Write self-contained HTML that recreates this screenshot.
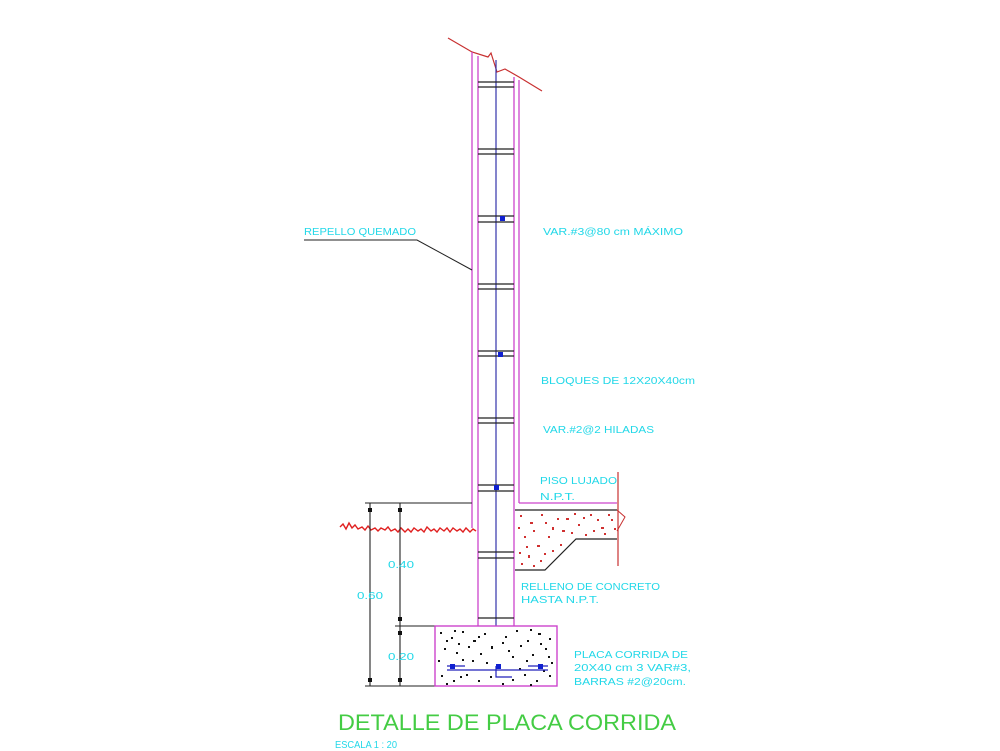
<!DOCTYPE html>
<html><head><meta charset="utf-8"><style>
html,body{margin:0;padding:0;background:#fff;width:1000px;height:751px;overflow:hidden}
svg{display:block}
text{font-family:"Liberation Sans",sans-serif}
.c{fill:#22d8e8;font-size:10.5px}
</style></head><body>
<svg width="1000" height="751" viewBox="0 0 1000 751" xmlns="http://www.w3.org/2000/svg">
<polyline points="448,38 472,52 488,57 491,53 497,72 505,69 519,77 542,91" fill="none" stroke="#c83030" stroke-width="1.2"/>
<g stroke="#cc44cc" stroke-width="1.3" fill="none">
<line x1="472" y1="52" x2="472" y2="503"/>
<line x1="478" y1="56" x2="478" y2="626"/>
<line x1="514" y1="77" x2="514" y2="626"/>
<line x1="519" y1="80" x2="519" y2="503"/>
<line x1="472" y1="503" x2="472" y2="528"/>
</g>
<line x1="496" y1="60" x2="496" y2="677" stroke="#3333aa" stroke-width="1.2"/>
<g stroke="#222" stroke-width="1.2">
<line x1="478" y1="82" x2="514" y2="82"/><line x1="478" y1="87" x2="514" y2="87"/>
<line x1="478" y1="149" x2="514" y2="149"/><line x1="478" y1="154" x2="514" y2="154"/>
<line x1="478" y1="216" x2="514" y2="216"/><line x1="478" y1="222" x2="514" y2="222"/>
<line x1="478" y1="284" x2="514" y2="284"/><line x1="478" y1="289" x2="514" y2="289"/>
<line x1="478" y1="351" x2="514" y2="351"/><line x1="478" y1="356" x2="514" y2="356"/>
<line x1="478" y1="418" x2="514" y2="418"/><line x1="478" y1="423" x2="514" y2="423"/>
<line x1="478" y1="485" x2="514" y2="485"/><line x1="478" y1="491" x2="514" y2="491"/>
<line x1="478" y1="552" x2="514" y2="552"/><line x1="478" y1="558" x2="514" y2="558"/>
<line x1="478" y1="618" x2="514" y2="618"/>
</g>
<g fill="#1020d0"><rect x="500" y="216" width="5" height="5"/><rect x="498" y="352" width="5" height="5"/><rect x="494" y="485" width="5" height="5"/></g>
<polyline points="304,240 417,240 472,270" fill="none" stroke="#222" stroke-width="1"/>
<line x1="519" y1="503" x2="617" y2="503" stroke="#cc44cc" stroke-width="1.3"/>
<line x1="515" y1="510" x2="617" y2="510" stroke="#222" stroke-width="1.2"/>
<line x1="618" y1="472" x2="618" y2="566" stroke="#c83030" stroke-width="1.2"/>
<polyline points="617,510 625,517 617,531" fill="none" stroke="#c83030" stroke-width="1"/>
<polyline points="617,539 576,539 545,570 515,570" fill="none" stroke="#222" stroke-width="1.2"/>
<g fill="#d03030">
<rect x="520" y="515" width="2" height="2"/><rect x="530" y="522" width="3" height="2"/><rect x="541" y="514" width="2" height="2"/><rect x="552" y="527" width="2" height="3"/><rect x="566" y="518" width="3" height="2"/><rect x="578" y="524" width="2" height="2"/><rect x="590" y="514" width="2" height="2"/><rect x="601" y="527" width="3" height="2"/><rect x="611" y="519" width="2" height="2"/><rect x="524" y="536" width="2" height="2"/><rect x="537" y="545" width="3" height="2"/><rect x="548" y="536" width="2" height="2"/><rect x="560" y="544" width="2" height="2"/><rect x="528" y="555" width="2" height="3"/><rect x="540" y="560" width="2" height="2"/><rect x="521" y="563" width="2" height="2"/><rect x="571" y="532" width="2" height="2"/><rect x="585" y="534" width="2" height="2"/><rect x="597" y="519" width="2" height="2"/><rect x="557" y="518" width="2" height="2"/><rect x="533" y="530" width="2" height="2"/><rect x="604" y="533" width="2" height="2"/><rect x="552" y="550" width="2" height="2"/>
<rect x="518" y="527" width="2" height="2"/><rect x="545" y="522" width="2" height="2"/><rect x="562" y="530" width="3" height="2"/><rect x="583" y="517" width="2" height="2"/><rect x="593" y="530" width="2" height="2"/><rect x="608" y="514" width="2" height="2"/><rect x="526" y="546" width="2" height="2"/><rect x="519" y="552" width="2" height="2"/><rect x="533" y="565" width="2" height="2"/><rect x="544" y="553" width="2" height="2"/><rect x="574" y="513" width="2" height="2"/><rect x="614" y="528" width="2" height="2"/>
</g>
<path d="M340,527 l3,-3 l3,5 l3,-6 l3,5 l3,-3 l3,4 l4,-2 l3,3 l3,-4 l3,4 l4,-2 l3,3 l3,-3 l4,2 l3,-3 l3,4 l4,-2 l3,3 l3,-4 l4,4 l3,-3 l3,3 l3,-4 l4,3 l3,-2 l3,3 l3,-5 l4,4 l3,-2 l3,3 l3,-4 l4,3 l3,-3 l3,4 l3,-4 l4,3 l3,-2 l3,3 l3,-4 l4,4 l3,-3 l3,2" fill="none" stroke="#e02020" stroke-width="1.4"/>
<g stroke="#222" stroke-width="1.1">
<line x1="365" y1="503" x2="472" y2="503"/>
<line x1="370" y1="503" x2="370" y2="686"/>
<line x1="400" y1="503" x2="400" y2="686"/>
<line x1="395" y1="626" x2="435" y2="626"/>
<line x1="365" y1="686" x2="435" y2="686"/>
</g>
<g fill="#111"><rect x="368" y="508" width="4" height="4"/><rect x="398" y="508" width="4" height="4"/><rect x="398" y="617" width="4" height="4"/><rect x="398" y="631" width="4" height="4"/><rect x="368" y="678" width="4" height="4"/><rect x="398" y="678" width="4" height="4"/></g>
<rect x="435" y="626" width="122" height="60" fill="#fff" stroke="#cc44cc" stroke-width="1.4"/>
<g fill="#111">
<rect x="440" y="632" width="2" height="2"/><rect x="451" y="637" width="2" height="2"/><rect x="462" y="631" width="2" height="2"/><rect x="473" y="640" width="3" height="2"/><rect x="484" y="633" width="2" height="2"/><rect x="505" y="636" width="2" height="2"/><rect x="516" y="630" width="2" height="2"/><rect x="527" y="640" width="2" height="2"/><rect x="538" y="633" width="3" height="2"/><rect x="549" y="638" width="2" height="2"/><rect x="444" y="648" width="2" height="2"/><rect x="456" y="652" width="2" height="2"/><rect x="468" y="646" width="2" height="2"/><rect x="480" y="653" width="2" height="2"/><rect x="491" y="646" width="2" height="3"/><rect x="508" y="650" width="2" height="2"/><rect x="520" y="645" width="2" height="2"/><rect x="532" y="654" width="2" height="2"/><rect x="545" y="648" width="2" height="2"/><rect x="441" y="675" width="2" height="2"/><rect x="453" y="680" width="2" height="2"/><rect x="466" y="674" width="2" height="2"/><rect x="478" y="680" width="2" height="2"/><rect x="490" y="676" width="2" height="2"/><rect x="512" y="679" width="2" height="2"/><rect x="524" y="674" width="2" height="2"/><rect x="536" y="680" width="2" height="2"/><rect x="549" y="675" width="2" height="2"/><rect x="462" y="659" width="2" height="2"/><rect x="526" y="660" width="2" height="2"/><rect x="438" y="660" width="2" height="2"/><rect x="551" y="662" width="2" height="2"/>
<rect x="446" y="640" width="2" height="2"/><rect x="458" y="643" width="2" height="2"/><rect x="478" y="636" width="2" height="2"/><rect x="502" y="642" width="2" height="2"/><rect x="512" y="656" width="2" height="2"/><rect x="540" y="643" width="2" height="2"/><rect x="548" y="656" width="2" height="2"/><rect x="472" y="660" width="2" height="2"/><rect x="486" y="662" width="2" height="2"/><rect x="446" y="683" width="2" height="2"/><rect x="502" y="683" width="2" height="2"/><rect x="530" y="684" width="2" height="2"/><rect x="460" y="676" width="2" height="2"/><rect x="519" y="668" width="2" height="2"/><rect x="543" y="670" width="2" height="2"/><rect x="454" y="630" width="2" height="2"/><rect x="530" y="629" width="2" height="2"/>
</g>
<g stroke="#2222bb" stroke-width="1.2" fill="none">
<line x1="447" y1="670" x2="548" y2="670"/>
<polyline points="447,666 465,666"/><polyline points="528,666 548,666"/>
<polyline points="496,666 496,677 512,677"/>
</g>
<g fill="#1020d0"><rect x="450" y="664" width="5" height="5"/><rect x="496" y="664" width="5" height="5"/><rect x="538" y="664" width="5" height="5"/></g>
<text class="c" x="304" y="235" textLength="112" lengthAdjust="spacingAndGlyphs">REPELLO QUEMADO</text>
<text class="c" x="543" y="235" textLength="140" lengthAdjust="spacingAndGlyphs">VAR.#3@80 cm MÁXIMO</text>
<text class="c" x="541" y="384" textLength="154" lengthAdjust="spacingAndGlyphs">BLOQUES DE 12X20X40cm</text>
<text class="c" x="543" y="433" textLength="111" lengthAdjust="spacingAndGlyphs">VAR.#2@2 HILADAS</text>
<text class="c" x="540" y="484" textLength="77" lengthAdjust="spacingAndGlyphs">PISO LUJADO</text>
<text class="c" x="540" y="500" textLength="35" lengthAdjust="spacingAndGlyphs">N.P.T.</text>
<text class="c" x="521" y="590" textLength="139" lengthAdjust="spacingAndGlyphs">RELLENO DE CONCRETO</text>
<text class="c" x="521" y="603" textLength="78" lengthAdjust="spacingAndGlyphs">HASTA N.P.T.</text>
<text class="c" x="574" y="658" textLength="114" lengthAdjust="spacingAndGlyphs">PLACA CORRIDA DE</text>
<text class="c" x="574" y="671" textLength="117" lengthAdjust="spacingAndGlyphs">20X40 cm 3 VAR#3,</text>
<text class="c" x="574" y="685" textLength="112" lengthAdjust="spacingAndGlyphs">BARRAS #2@20cm.</text>
<text class="c" x="388" y="568" textLength="26" lengthAdjust="spacingAndGlyphs">0.40</text>
<text class="c" x="357" y="599" textLength="26" lengthAdjust="spacingAndGlyphs">0.60</text>
<text class="c" x="388" y="660" textLength="26" lengthAdjust="spacingAndGlyphs">0.20</text>
<text x="338" y="730" fill="#44cc44" font-size="22" textLength="338" lengthAdjust="spacingAndGlyphs">DETALLE DE PLACA CORRIDA</text>
<text class="c" x="335" y="748" font-size="10" textLength="62" lengthAdjust="spacingAndGlyphs">ESCALA 1 : 20</text>
</svg>
</body></html>
